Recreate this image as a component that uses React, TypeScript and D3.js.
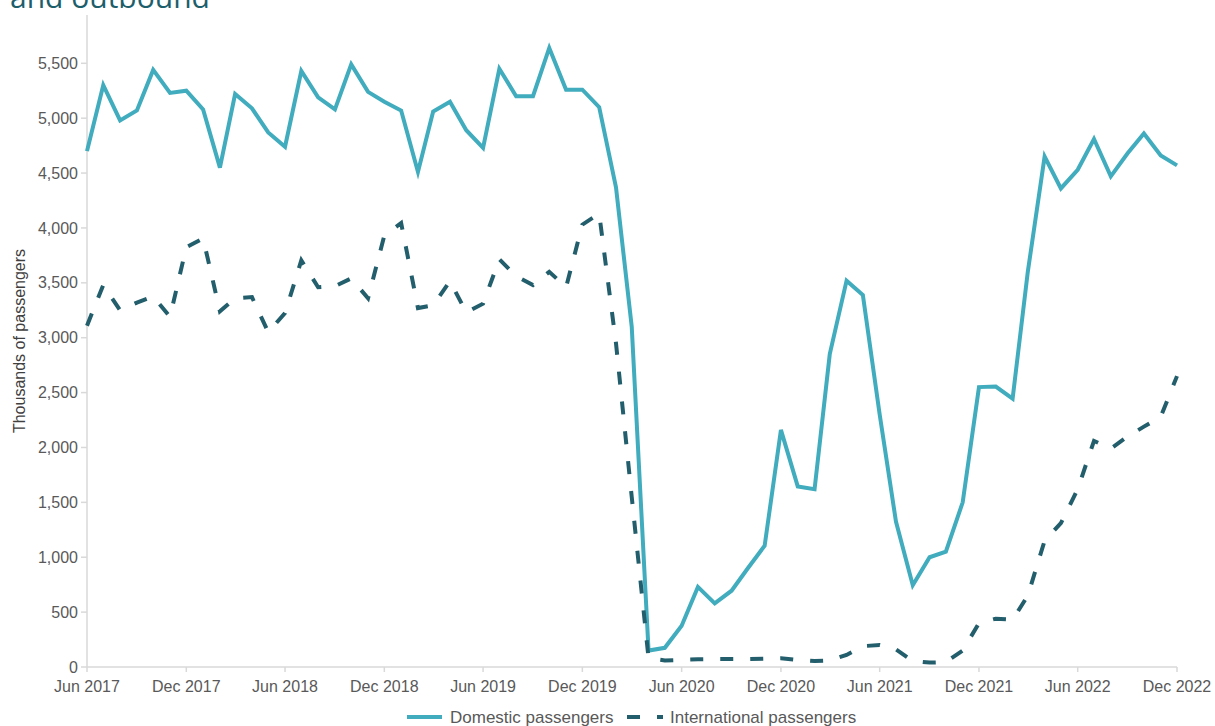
import React from "react";
import * as d3 from "d3";

const startYear = 2017;
const startMonth = 5; // June (0-based)

const domestic = [
  4700, 5300, 4980, 5070, 5440, 5230, 5250, 5080, 4550, 5220, 5090, 4870,
  4740, 5430, 5190, 5080, 5490, 5240, 5150, 5070, 4510, 5060, 5150, 4890,
  4730, 5450, 5200, 5200, 5640, 5260, 5260, 5100, 4370, 3100, 150, 175,
  375, 730, 580, 695, 900, 1105, 2160, 1645, 1620, 2850, 3520, 3390,
  2300, 1325, 745, 1000, 1050, 1500, 2550, 2555, 2445, 3600, 4650, 4360,
  4530, 4810, 4470, 4680, 4860, 4660, 4570,
];

const international = [
  3110, 3480, 3250, 3320, 3375, 3190, 3825, 3905, 3240, 3360, 3370, 3050,
  3225, 3705, 3460, 3470, 3540, 3360, 3930, 4045, 3270, 3295, 3515, 3230,
  3310, 3715, 3560, 3480, 3600, 3460, 4030, 4130, 2950, 1550, 80, 60,
  65, 70, 72, 72, 72, 76, 80, 65, 55, 60, 110, 190,
  200, 160, 55, 40, 45, 150, 400, 440, 430, 650, 1150, 1310,
  1620, 2060, 1990, 2100, 2190, 2280, 2650,
];

const yTicks = [0, 500, 1000, 1500, 2000, 2500, 3000, 3500, 4000, 4500, 5000, 5500];
const seriesNames = ["Domestic passengers", "International passengers"];
const titleText = "and outbound";
const yTitle = "Thousands of passengers";

const dates = domestic.map((_, i) => new Date(startYear, startMonth + i, 1));
const xTickDates = dates.filter((_, i) => i % 6 === 0);

const W = 1215;
const H = 726;
const left = 87;
const right = 1177;
const top = 15;
const bottom = 667;

const domColor = "#40acbd";
const intColor = "#225e6b";
const textColor = "#595959";
const axisColor = "#d9d9d9";
const font = "'Liberation Sans', Arial, sans-serif";

export default function App() {
  const x = d3.scaleTime().domain([dates[0], dates[dates.length - 1]]).range([left, right]);
  const y = d3.scaleLinear().domain([0, 5940]).range([bottom, top]);
  const fmtX = d3.timeFormat("%b %Y");
  const fmtY = d3.format(",");

  const line = d3
    .line<number>()
    .x((_, i) => x(dates[i]))
    .y((d) => y(d));

  return (
    <svg
      width={W}
      height={H}
      style={{ position: "absolute", left: 0, top: 0, background: "#fff" }}
      fontFamily={font}
    >
      <text x={10} y={8} fontSize={30} fill="#1d5e6b" fontFamily="'Open Sans', sans-serif">
        {titleText}
      </text>

      {/* y axis */}
      <line x1={left} x2={left} y1={top} y2={bottom} stroke={axisColor} strokeWidth={1.5} />
      {yTicks.map((t) => (
        <g key={t}>
          <line x1={left - 6} x2={left} y1={y(t)} y2={y(t)} stroke={axisColor} strokeWidth={1.5} />
          <text x={left - 9} y={y(t)} dy="0.35em" textAnchor="end" fontSize={16} fill={textColor}>
            {fmtY(t)}
          </text>
        </g>
      ))}
      <text
        transform={`translate(25,${(top + bottom) / 2}) rotate(-90)`}
        textAnchor="middle"
        fontSize={16}
        fill="#404040"
      >
        {yTitle}
      </text>

      {/* x axis */}
      <line x1={left} x2={right} y1={bottom} y2={bottom} stroke={axisColor} strokeWidth={1.5} />
      {xTickDates.map((d) => (
        <g key={d.getTime()}>
          <line x1={x(d)} x2={x(d)} y1={bottom} y2={bottom + 5} stroke={axisColor} strokeWidth={1.5} />
          <text x={x(d)} y={bottom + 25} textAnchor="middle" fontSize={16} fill={textColor}>
            {fmtX(d)}
          </text>
        </g>
      ))}

      {/* lines */}
      <path d={line(domestic) || ""} fill="none" stroke={domColor} strokeWidth={4} strokeLinejoin="miter" />
      <path
        d={line(international) || ""}
        fill="none"
        stroke={intColor}
        strokeWidth={4}
        strokeDasharray="13,17"
      />

      {/* legend */}
      <line x1={407} x2={442} y1={717} y2={717} stroke={domColor} strokeWidth={4} />
      <text x={450} y={723} fontSize={17} fill={textColor}>
        {seriesNames[0]}
      </text>
      <line x1={627} x2={663} y1={717} y2={717} stroke={intColor} strokeWidth={4} strokeDasharray="13,17" />
      <text x={670} y={723} fontSize={17} fill={textColor}>
        {seriesNames[1]}
      </text>
    </svg>
  );
}
